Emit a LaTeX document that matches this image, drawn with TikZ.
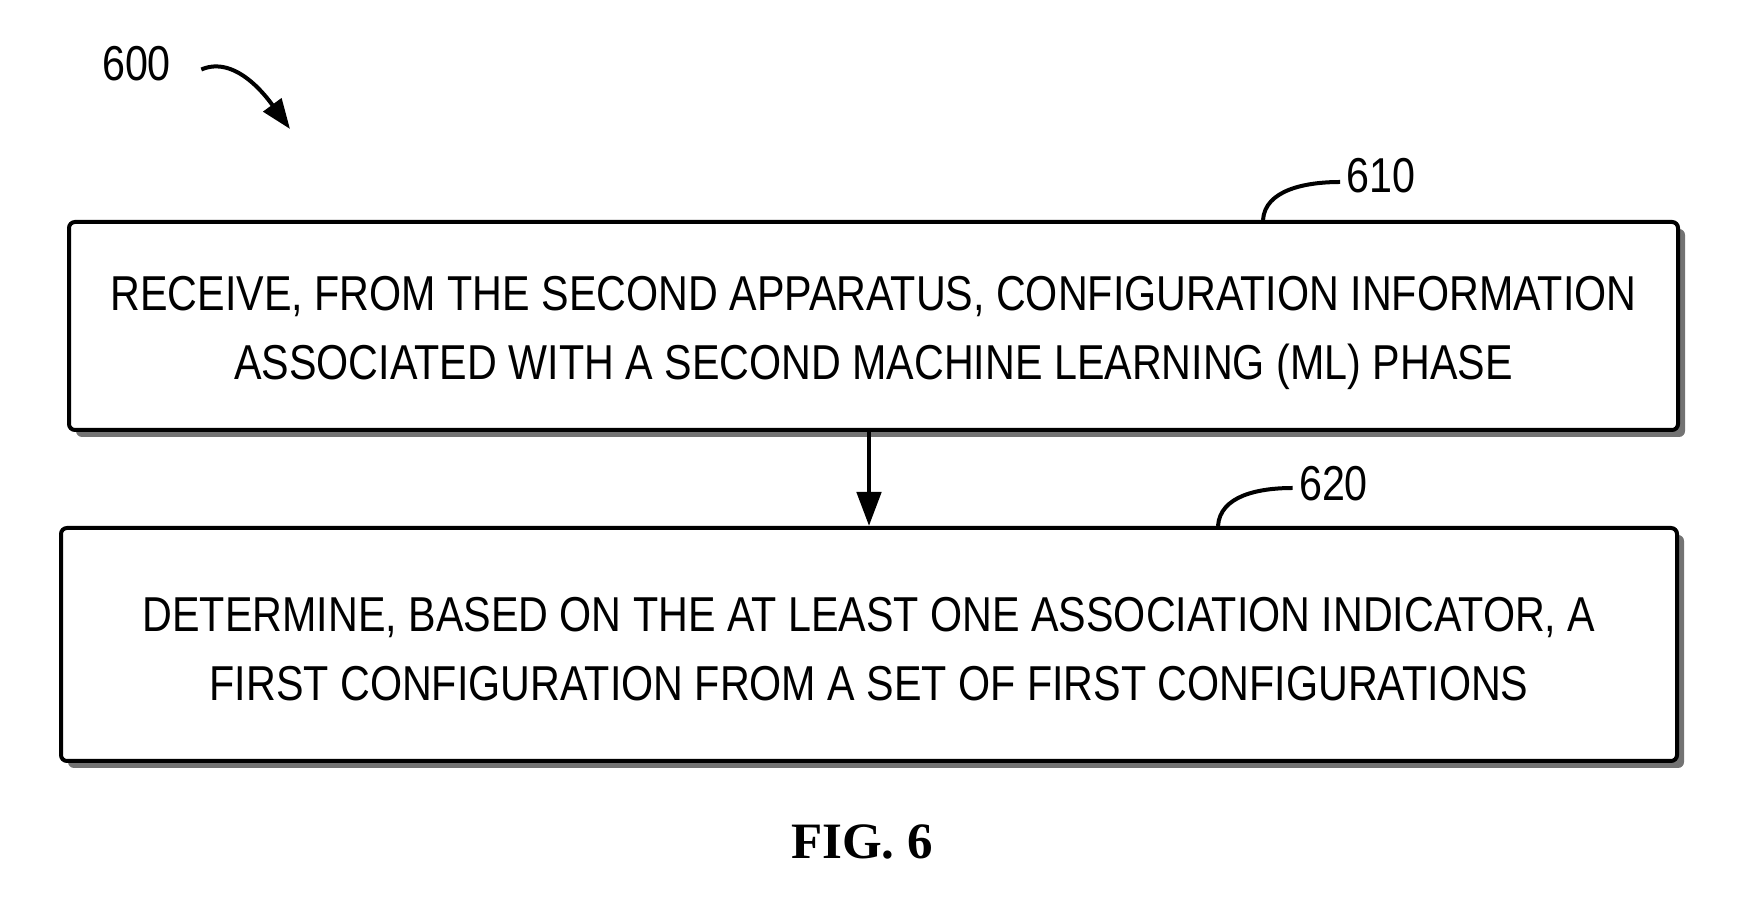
\documentclass[tikz,border=0pt]{standalone}
\usepackage{fontspec}
\setmainfont{Liberation Serif}
\newfontfamily\boxfont[FakeStretch=0.842]{Liberation Sans}
\usetikzlibrary{arrows.meta,positioning,shadows}

\begin{document}
\begin{tikzpicture}[
  x=0.5pt,y=0.5pt,
  font=\boxfont\fontsize{24.5}{34.5}\selectfont,
  stepbox/.style={draw,line width=2pt,rounded corners=3pt,fill=white,
                  align=center,
                  drop shadow={shadow xshift=3.5pt,shadow yshift=-3.5pt,
                               fill=black!55,opacity=1}},
  refnum/.style={inner sep=3pt},
  leader/.style={line width=2pt},
  pointer/.style={-{Triangle[length=15pt,width=11pt]},line width=2pt},
  arrow/.style={-{Triangle[length=17pt,width=12pt]},line width=2.4pt}
]
\useasboundingbox (0,0) rectangle (1757,915);

\node[stepbox,minimum width=804.5pt,minimum height=104pt] (receive) at (873.5,589)
  {\rule{0pt}{24.4pt}RECEIVE, FROM THE SECOND APPARATUS, CONFIGURATION INFORMATION\\
   ASSOCIATED WITH A SECOND MACHINE LEARNING (ML) PHASE};
\node[stepbox,minimum width=808pt,minimum height=116.5pt,
      below=47pt of receive,xshift=-2.25pt] (determine)
  {\rule{0pt}{21.6pt}DETERMINE, BASED ON THE AT LEAST ONE ASSOCIATION INDICATOR, A\\
   FIRST CONFIGURATION FROM A SET OF FIRST CONFIGURATIONS};
\draw[arrow] (receive.south -| determine.north) -- (determine.north);

% reference numerals
\node[refnum] (n600) at (136.5,851.5) {600};
\node[refnum] (n610) at (1381,739) {610};
\node[refnum] (n620) at (1333.5,431) {620};
\coordinate (c600) at (290,786);
\coordinate (c610) at ([xshift=194.75pt]receive.north);
\coordinate (c620) at ([xshift=174.5pt]determine.north);
\draw[pointer] ([xshift=12pt,yshift=-3pt]n600.east) .. controls +(35,15) and +(-22,30) .. (c600);
\draw[leader] ([yshift=-3pt]n610.west) .. controls +(-35,0) and +(2,30) .. (c610);
\draw[leader] ([yshift=-2pt]n620.west) .. controls +(-35,0) and +(2,30) .. (c620);

\node[font=\rmfamily\bfseries\fontsize{25.5}{30}\selectfont] (fig) at (862,73) {FIG. 6};
\end{tikzpicture}
\end{document}
